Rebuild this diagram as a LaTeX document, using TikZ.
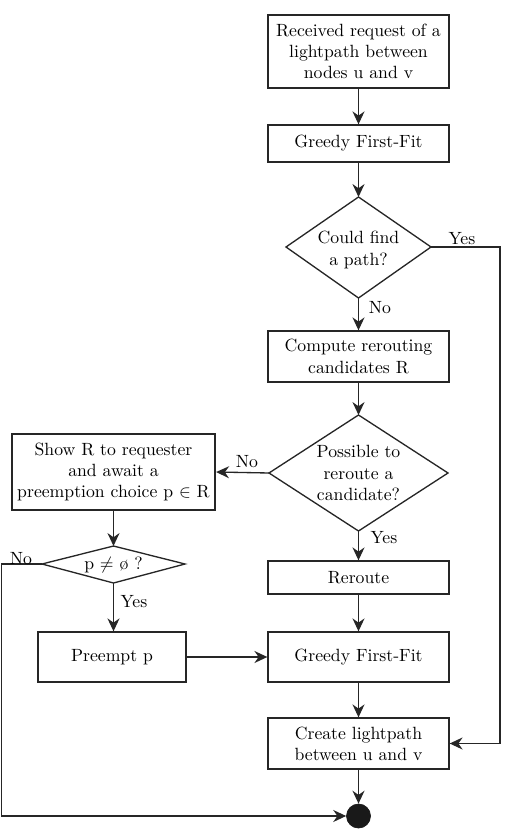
\documentclass[tikz,border=0pt]{standalone}
\usetikzlibrary{arrows.meta}
\begin{document}
\begin{tikzpicture}[x=0.565pt,y=-0.565pt,
  box/.style={draw=black!85, line width=0.75pt, align=center, inner sep=0pt, minimum width=181*0.565pt},
  tbox/.style={box, line width=1.3pt},
  dtext/.style={align=center, inner sep=0pt},
  lbl/.style={inner sep=0pt},
  conn/.style={draw=black!85, line width=0.75pt, -{Stealth[length=7.3pt,width=6.8pt]}},
  dshape/.style={draw=black!85, line width=0.75pt, line join=miter}]
\useasboundingbox (0,0) rectangle (507,831);

% boxes
\node[tbox, minimum height=73*0.565pt] (b1) at (358.5,51.5) {Received request of a\\lightpath between\\nodes u and v};
\node[box, minimum height=37*0.565pt] (b2) at (358.5,143.5) {Greedy First-Fit};
\node[box, minimum height=51*0.565pt] (b3) at (358.5,356.5) {Compute rerouting\\candidates R};
\node[tbox, minimum width=203*0.565pt, minimum height=76*0.565pt] (b4) at (113.5,472) {Show R to requester\\and await a\\preemption choice p $\in$ R};
\node[box, minimum height=33*0.565pt] (rr) at (358.5,577.5) {Reroute};
\node[box, minimum width=148*0.565pt, minimum height=50*0.565pt] (pp) at (112,657) {Preempt p};
\node[box, minimum height=50*0.565pt] (g2) at (358.5,657) {Greedy First-Fit};
\node[box, minimum height=51*0.565pt] (cr) at (358.5,743.5) {Create lightpath\\between u and v};
\node[circle, fill=black!90, draw=black!90, minimum size=24*0.565pt, inner sep=0pt] (end) at (358.5,816) {};

% diamond 1
\coordinate (d1w) at (286,247);
\coordinate (d1n) at (358.5,197);
\coordinate (d1e) at (431,247);
\coordinate (d1s) at (358.5,298);
\draw[dshape] (d1w) -- (d1n) -- (d1e) -- (d1s) -- cycle;
\node[dtext] (d1) at (358.5,250) {Could find\\a path?};

% diamond 2
\coordinate (d2w) at (269,473);
\coordinate (d2n) at (358.5,415);
\coordinate (d2e) at (448,473);
\coordinate (d2s) at (358.5,531);
\draw[dshape] (d2w) -- (d2n) -- (d2e) -- (d2s) -- cycle;
\node[dtext] (d2) at (358.5,473) {Possible to\\reroute a\\candidate?};

% diamond 3
\coordinate (d3w) at (42,564);
\coordinate (d3n) at (113.5,546);
\coordinate (d3e) at (185,564);
\coordinate (d3s) at (113.5,583);
\draw[dshape] (d3w) -- (d3n) -- (d3e) -- (d3s) -- cycle;
\node[dtext] (d3) at (113.5,565) {p $\neq$ \o{} ?};

% helper corners
\coordinate (rt) at (500,247);
\coordinate (lt) at (1.5,564);

% connectors
\draw[conn] (b1.south) -- (b2.north);
\draw[conn] (b2.south) -- (d1n);
\draw[conn] (d1s) -- (b3.north);
\draw[conn] (b3.south) -- (d2n);
\draw[conn] (d2w) -- (b4.east);
\draw[conn] (d2s) -- (rr.north);
\draw[conn] (rr.south) -- (g2.north);
\draw[conn] (b4.south) -- (d3n);
\draw[conn] (d3s) -- (d3s |- pp.north);
\draw[conn] (pp.east) -- (g2.west);
\draw[conn] (g2.south) -- (cr.north);
\draw[conn] (cr.south) -- (end.north);
\draw[conn] (d1e) -- (rt) |- (cr.east);
\draw[conn] (d3w) -- (lt) |- (end.west);

% labels
\node[lbl] (l1) at (462,239) {Yes};
\node[lbl] (l2) at (380,308) {No};
\node[lbl] (l3) at (247,462) {No};
\node[lbl] (l4) at (384,538) {Yes};
\node[lbl] (l5) at (21,559) {No};
\node[lbl] (l6) at (134,602) {Yes};
\end{tikzpicture}
\end{document}
